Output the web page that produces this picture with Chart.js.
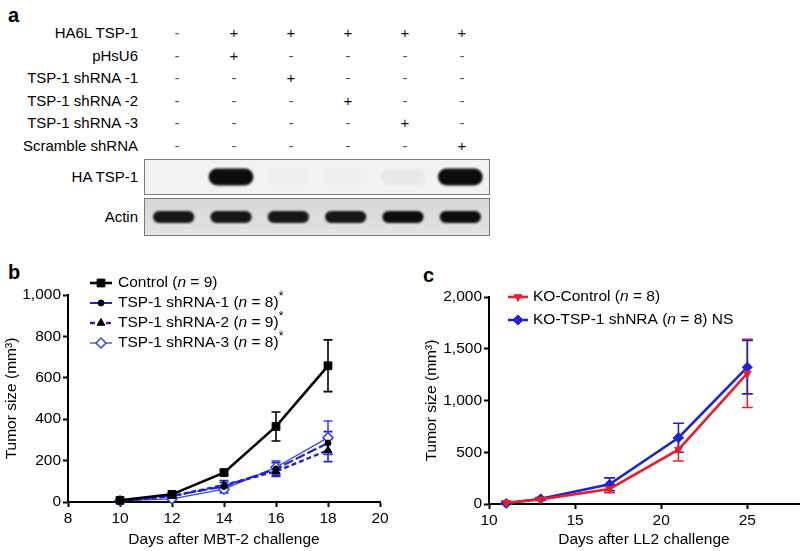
<!DOCTYPE html>
<html>
<head>
<meta charset="utf-8">
<script src="https://cdn.jsdelivr.net/npm/chart.js@4.4.0/dist/chart.umd.min.js"></script>
<style>
  body { margin: 0; background: #fff; font-family: 'Liberation Sans', Arial, sans-serif; color: #000; -webkit-font-smoothing: antialiased; }
  #page { position: relative; width: 805px; height: 551px; overflow: hidden; }
  .abs { position: absolute; white-space: nowrap; }
  .letter { font-weight: bold; font-size: 20px; }
  .rowlab { font-size: 15px; text-align: right; width: 140px; transform: translateY(-50%); }
  .sign { font-size: 15px; transform: translate(-50%, -50%); }
  .strip { position: absolute; border: 1px solid #7a7a7a; }
  canvas { position: absolute; }
</style>
</head>
<body>
<div id="page">
  <div class="abs letter" style="left:8px; top:4px;">a</div>
  <div class="abs letter" style="left:8px; top:261px;">b</div>
  <div class="abs letter" style="left:423px; top:264px;">c</div>
  <div id="table"></div>
  <div class="strip" style="left:144px; top:159px; width:344px; height:34px; background:#f2f2f2;"><canvas id="haBlot" width="344" height="34" style="left:0;top:0"></canvas></div>
  <div class="strip" style="left:144px; top:198px; width:344px; height:36px; background:linear-gradient(#d6d6d6, #e3e3e3);"><canvas id="actinBlot" width="344" height="36" style="left:0;top:0"></canvas></div>
  <canvas id="chartB" width="400" height="291" style="left:0; top:260px;"></canvas>
  <canvas id="chartC" width="405" height="291" style="left:400px; top:260px;"></canvas>
</div>
<script>
// panel a: treatment table and blot band intensities
const rowLabels = ['HA6L TSP-1', 'pHsU6', 'TSP-1 shRNA -1', 'TSP-1 shRNA -2', 'TSP-1 shRNA -3', 'Scramble shRNA'];
const rowSigns = [
  ['-', '+', '+', '+', '+', '+'],
  ['-', '+', '-', '-', '-', '-'],
  ['-', '-', '+', '-', '-', '-'],
  ['-', '-', '-', '+', '-', '-'],
  ['-', '-', '-', '-', '+', '-'],
  ['-', '-', '-', '-', '-', '+']
];
const lanes = ['1', '2', '3', '4', '5', '6'];
const haBand = [0, 1, 0.012, 0.012, 0.035, 1];
const actinBand = [0.95, 0.95, 0.95, 0.95, 1, 1];

// panel b: MBT-2 tumour growth
const bDays = [10, 12, 14, 16, 18];
const bNames = ['Control', 'TSP-1 shRNA-1', 'TSP-1 shRNA-2', 'TSP-1 shRNA-3'];
const bN = [9, 8, 9, 8];
const bSig = ['', '*', '*', '*'];
const bControl = [8, 37, 142, 365, 658];
const bControlSem = [3, 5, 10, 70, 125];
const bSh1 = [7, 30, 75, 160, 285];
const bSh1Sem = [3, 5, 20, 30, 55];
const bSh2 = [6, 28, 82, 148, 250];
const bSh2Sem = [3, 6, 22, 25, 55];
const bSh3 = [6, 15, 62, 168, 311];
const bSh3Sem = [3, 5, 18, 30, 80];
const bXTicks = [8, 10, 12, 14, 16, 18, 20];
const bYTicks = [0, 200, 400, 600, 800, 1000];

// panel c: LL2 tumour growth in KO mice
const cDays = [11, 13, 17, 21, 25];
const cNames = ['KO-Control', 'KO-TSP-1 shNRA'];
const cN = [8, 8];
const cSig = ['', ' NS'];
const cControl = [12, 45, 145, 525, 1262];
const cControlSem = [15, 10, 35, 110, 330];
const cSh = [5, 50, 190, 640, 1322];
const cShSem = [5, 12, 62, 140, 258];
const cXTicks = [10, 15, 20, 25];
const cYTicks = [0, 500, 1000, 1500, 2000];

Chart.defaults.font.family = "'Liberation Sans', Arial, sans-serif";
Chart.defaults.font.size = 15;
Chart.defaults.color = '#000';

// table of + / -
const table = document.getElementById('table');
rowLabels.forEach((lab, r) => {
  const y = 32 + r * 22.5;
  const l = document.createElement('div');
  l.className = 'abs rowlab';
  l.style.left = '-2px';
  l.style.top = y + 'px';
  l.textContent = lab;
  table.appendChild(l);
  rowSigns[r].forEach((s, c) => {
    const d = document.createElement('div');
    d.className = 'abs sign';
    d.style.left = (177 + c * 57) + 'px';
    d.style.top = y + 'px';
    d.style.color = s === '+' ? '#111' : '#555';
    d.textContent = s;
    table.appendChild(d);
  });
});
[['HA TSP-1', 176], ['Actin', 216]].forEach(([t, y]) => {
  const l = document.createElement('div');
  l.className = 'abs rowlab';
  l.style.left = '-2px';
  l.style.top = y + 'px';
  l.textContent = t;
  table.appendChild(l);
});

// soft edges for the blot bands
const blurBands = {
  id: 'blurBands',
  beforeDatasetsDraw(chart) { chart.ctx.save(); chart.ctx.filter = 'blur(1.3px)'; },
  afterDatasetsDraw(chart) { chart.ctx.restore(); }
};

function blot(id, intensity, lo, hi, width, radius) {
  new Chart(document.getElementById(id), {
    type: 'bar',
    data: {
      labels: lanes,
      datasets: [{
        data: intensity.map(() => [lo, hi]),
        backgroundColor: intensity.map(v => 'rgba(12,12,12,' + v + ')'),
        borderRadius: radius,
        borderSkipped: false,
        barPercentage: width,
        categoryPercentage: 1
      }]
    },
    options: {
      responsive: false,
      animation: false,
      layout: { padding: 0 },
      plugins: { legend: { display: false }, tooltip: { enabled: false } },
      scales: {
        x: { display: false, offset: true },
        y: { display: false, min: 0, max: 1 }
      }
    },
    plugins: [blurBands]
  });
}
blot('haBlot', haBand, 0.25, 0.75, 0.78, 9);
blot('actinBlot', actinBand, 0.33, 0.67, 0.72, 6);

// error bars drawn from each dataset's sem array
const errorBars = {
  id: 'errorBars',
  beforeDatasetsDraw(chart, args, opts) {
    const ctx = chart.ctx;
    const xs = chart.scales.x, ys = chart.scales.y;
    ctx.save();
    chart.data.datasets.forEach(ds => {
      ctx.strokeStyle = ds.errorColor || ds.borderColor;
      ctx.lineWidth = 1.6;
      ds.data.forEach((p, j) => {
        const e = ds.sem[j];
        const x = xs.getPixelForValue(p.x);
        const y1 = ys.getPixelForValue(p.y + e);
        const y0 = ys.getPixelForValue(Math.max(0, p.y - e));
        const w = opts.cap / 2;
        ctx.beginPath();
        ctx.moveTo(x, y0); ctx.lineTo(x, y1);
        ctx.moveTo(x - w, y1); ctx.lineTo(x + w, y1);
        ctx.moveTo(x - w, y0); ctx.lineTo(x + w, y0);
        ctx.stroke();
      });
    });
    ctx.restore();
  }
};

// legend with line sample, marker, italic n and superscript star
const sampleLegend = {
  id: 'sampleLegend',
  afterDraw(chart, args, opts) {
    const ctx = chart.ctx;
    const fam = Chart.defaults.font.family;
    ctx.save();
    chart.data.datasets.forEach((ds, i) => {
      const y = opts.y + i * opts.gap;
      ctx.strokeStyle = ds.borderColor;
      ctx.lineWidth = ds.borderWidth;
      ctx.setLineDash(ds.borderDash || []);
      ctx.beginPath();
      ctx.moveTo(opts.x, y);
      ctx.lineTo(opts.x + opts.sample, y);
      ctx.stroke();
      ctx.setLineDash([]);
      ctx.fillStyle = ds.pointBackgroundColor;
      ctx.strokeStyle = ds.pointBorderColor;
      ctx.lineWidth = ds.pointBorderWidth;
      Chart.helpers.drawPoint(ctx, {
        pointStyle: ds.pointStyle, radius: ds.pointRadius,
        rotation: ds.pointRotation || 0, borderWidth: ds.pointBorderWidth
      }, opts.x + opts.sample / 2, y);
      let tx = opts.x + opts.sample + opts.textGap;
      ctx.fillStyle = '#000';
      ctx.textBaseline = 'middle';
      ds.legendParts.forEach(p => {
        ctx.font = (p.italic ? 'italic ' : '') + (p.sup ? 12 : 15.5) + 'px ' + fam;
        ctx.fillText(p.text, tx, p.sup ? y - 6 : y);
        tx += ctx.measureText(p.text).width;
      });
    });
    ctx.restore();
  }
};

function legendParts(name, n, sig) {
  const parts = [{ text: name + ' (' }, { text: 'n', italic: true }, { text: ' = ' + n + ')' }];
  if (sig === '*') parts.push({ text: '*', sup: true });
  else if (sig) parts.push({ text: sig });
  return parts;
}

function series(days, vals, sem, name, n, sig, style) {
  return Object.assign({
    label: name,
    data: days.map((d, j) => ({ x: d, y: vals[j] })),
    sem: sem,
    legendParts: legendParts(name, n, sig),
    clip: false,
    tension: 0
  }, style);
}

function axes(xMin, xMax, xTicks, yMax, yTicks, xTitle, yWidth, xHeight) {
  const common = {
    type: 'linear',
    grid: { display: true, drawOnChartArea: false, drawTicks: true, tickLength: 5, tickColor: '#000', tickWidth: 2 },
    border: { display: true, color: '#000', width: 2 },
    ticks: { color: '#000', padding: 2, maxRotation: 0, font: { size: 15.5 }, callback: v => v.toLocaleString('en-US') }
  };
  return {
    x: Object.assign({}, common, {
      min: xMin, max: xMax,
      afterBuildTicks: s => { s.ticks = xTicks.map(v => ({ value: v })); },
      title: { display: true, text: xTitle, font: { size: 15.5 }, padding: { top: 0, bottom: 2 } },
      afterFit: s => { s.height = xHeight; }
    }),
    y: Object.assign({}, common, {
      min: 0, max: yMax,
      afterBuildTicks: s => { s.ticks = yTicks.map(v => ({ value: v })); },
      title: { display: true, text: 'Tumor size (mm³)', font: { size: 15.5 }, padding: { top: 2, bottom: 0 } },
      afterFit: s => { s.width = yWidth; }
    })
  };
}

const blue = '#1f22d8';

new Chart(document.getElementById('chartB'), {
  type: 'line',
  data: {
    datasets: [
      series(bDays, bControl, bControlSem, bNames[0], bN[0], bSig[0], {
        borderColor: '#000', borderWidth: 2.6, pointStyle: 'rect', pointRadius: 5.5,
        pointBackgroundColor: '#000', pointBorderColor: '#000', pointBorderWidth: 1
      }),
      series(bDays, bSh1, bSh1Sem, bNames[1], bN[1], bSig[1], {
        borderColor: blue, borderWidth: 2.2, borderDash: [10, 3], pointStyle: 'circle', pointRadius: 3,
        pointBackgroundColor: '#000', pointBorderColor: '#000', pointBorderWidth: 1
      }),
      series(bDays, bSh2, bSh2Sem, bNames[2], bN[2], bSig[2], {
        borderColor: blue, borderWidth: 2.4, borderDash: [5, 3], pointStyle: 'triangle', pointRadius: 4.5,
        pointBackgroundColor: '#000', pointBorderColor: '#000', pointBorderWidth: 1
      }),
      series(bDays, bSh3, bSh3Sem, bNames[3], bN[3], bSig[3], {
        borderColor: '#3247e6', borderWidth: 1.3, pointStyle: 'rectRot', pointRadius: 5,
        pointBackgroundColor: '#fff', pointBorderColor: '#3247e6', pointBorderWidth: 1.5
      })
    ]
  },
  options: {
    responsive: false,
    animation: false,
    layout: { padding: { top: 35, right: 20, left: 0, bottom: 0 } },
    plugins: {
      legend: { display: false },
      tooltip: { enabled: false },
      errorBars: { cap: 9 },
      sampleLegend: { x: 90, y: 23, gap: 20, sample: 22, textGap: 6 }
    },
    scales: axes(8, 20, bXTicks, 1000, bYTicks, 'Days after MBT-2 challenge', 68, 49)
  },
  plugins: [errorBars, sampleLegend]
});

new Chart(document.getElementById('chartC'), {
  type: 'line',
  data: {
    datasets: [
      series(cDays, cControl, cControlSem, cNames[0], cN[0], cSig[0], {
        borderColor: '#e5202b', borderWidth: 2.6, pointStyle: 'triangle', pointRotation: 180, pointRadius: 4.5,
        pointBackgroundColor: '#e5202b', pointBorderColor: '#e5202b', pointBorderWidth: 1
      }),
      series(cDays, cSh, cShSem, cNames[1], cN[1], cSig[1], {
        borderColor: blue, borderWidth: 2.6, pointStyle: 'rectRot', pointRadius: 5,
        pointBackgroundColor: blue, pointBorderColor: blue, pointBorderWidth: 1
      })
    ]
  },
  options: {
    responsive: false,
    animation: false,
    layout: { padding: { top: 37, right: 4, left: 20, bottom: 0 } },
    plugins: {
      legend: { display: false },
      tooltip: { enabled: false },
      errorBars: { cap: 11 },
      sampleLegend: { x: 108, y: 37, gap: 23, sample: 20, textGap: 5 }
    },
    scales: axes(10, 28, cXTicks, 2000, cYTicks, 'Days after LL2 challenge', 69, 47)
  },
  plugins: [errorBars, sampleLegend]
});
</script>
</body>
</html>
